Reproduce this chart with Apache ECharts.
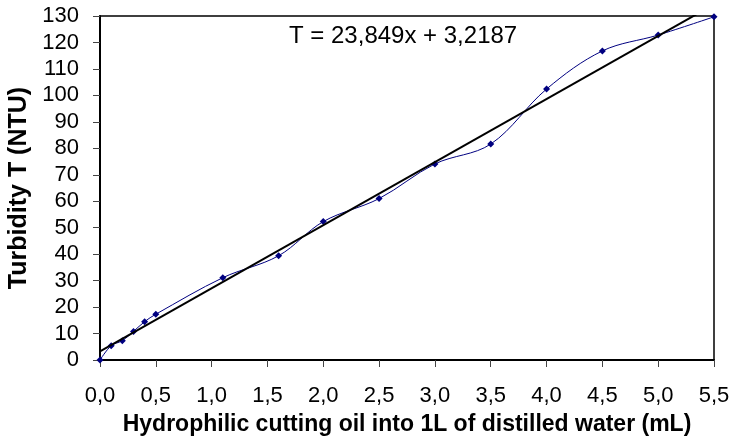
<!DOCTYPE html>
<html>
<head>
<meta charset="utf-8">
<script src="https://cdn.jsdelivr.net/npm/echarts@6/dist/echarts.min.js"></script>
<style>html,body{margin:0;padding:0;background:#fff}#c{width:735px;height:440px}</style>
</head>
<body>
<div id="c"></div>
<script>
// Data
const oilVolume = [0, 0.1, 0.2, 0.3, 0.4, 0.5, 1.1, 1.6, 2.0, 2.5, 3.0, 3.5, 4.0, 4.5, 5.0, 5.5];
const turbidity = [0, 5.4, 7.3, 10.8, 14.5, 17.3, 31.1, 39.4, 52.3, 61, 74.1, 81.6, 102.4, 116.8, 122.8, 129.7];
// Linear trendline as given in the chart: T = 23,849x + 3,2187
const trendSlope = 23.849;
const trendIntercept = 3.2187;
const trendRange = [0, 5.5];
const equationLabel = 'T = 23,849x + 3,2187';
const xTitle = 'Hydrophilic cutting oil into 1L of distilled water (mL)';
const yTitle = 'Turbidity T (NTU)';

const measured = oilVolume.map((x, i) => [x, turbidity[i]]);
const trend = trendRange.map(x => [x, trendSlope * x + trendIntercept]);

const chart = echarts.init(document.getElementById('c'));
const FONT = 'Liberation Sans, Arial, sans-serif';
chart.setOption({
  animation: false,
  textStyle: { fontFamily: FONT },
  grid: { left: 100, top: 16, right: 21, bottom: 80, outerBoundsMode: 'none', containLabel: false, show: true, borderColor: '#000', borderWidth: 1.5, backgroundColor: 'transparent' },
  xAxis: {
    type: 'value', min: 0, max: 5.5, interval: 0.5,
    axisLine: { show: true, onZero: false, lineStyle: { color: '#000', width: 2 } },
    axisTick: { show: true, length: 7, lineStyle: { color: '#444', width: 1 } },
    splitLine: { show: false },
    axisLabel: { color: '#000', fontSize: 22, fontFamily: FONT, margin: 25, formatter: v => v.toFixed(1).replace('.', ',') },
    name: xTitle, nameLocation: 'middle', nameGap: 53,
    nameTextStyle: { color: '#000', fontSize: 23, fontWeight: 'bold', fontFamily: FONT }
  },
  yAxis: {
    type: 'value', min: 0, max: 130, interval: 10,
    axisLine: { show: true, onZero: false, lineStyle: { color: '#000', width: 2 } },
    axisTick: { show: true, length: 7, lineStyle: { color: '#444', width: 1 } },
    splitLine: { show: false },
    axisLabel: { color: '#000', fontSize: 22, fontFamily: FONT, margin: 21 },
    name: yTitle, nameLocation: 'middle', nameGap: 62,
    nameTextStyle: { color: '#000', fontSize: 25, fontWeight: 'bold', fontFamily: FONT }
  },
  series: [
    {
      type: 'line', data: measured, smooth: 0.35,
      symbol: 'diamond', symbolSize: 7,
      itemStyle: { color: '#000080' },
      lineStyle: { color: '#000080', width: 1 },
      z: 2
    },
    {
      type: 'line', data: trend, symbol: 'none', clip: true,
      lineStyle: { color: '#000', width: 2 },
      z: 3
    }
  ],
  graphic: [{
    type: 'text', left: 289, top: 24,
    style: { text: equationLabel, fill: '#000', font: '24px ' + FONT }
  }]
});
</script>
</body>
</html>
